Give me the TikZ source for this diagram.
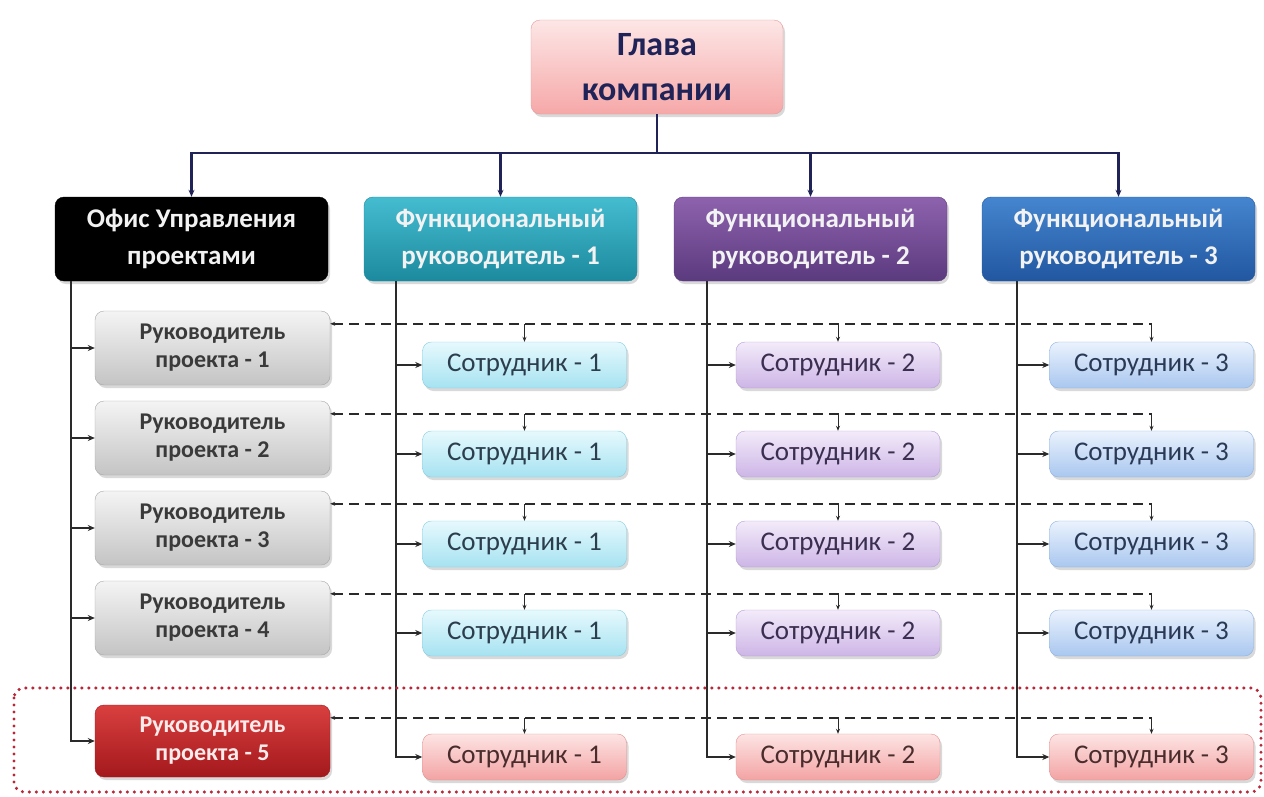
\documentclass[tikz,border=0pt]{standalone}
\usepackage{fontspec}
\setmainfont{Carlito}
\usetikzlibrary{shadows,arrows.meta}

\definecolor{navy}{HTML}{1F2358}
\definecolor{linegray}{HTML}{2A2A2A}
\definecolor{ceoTop}{HTML}{FDE6E6}
\definecolor{ceoBot}{HTML}{F6A8A8}
\definecolor{ceoLine}{HTML}{E49A9A}
\definecolor{tealTop}{HTML}{45BCD0}
\definecolor{tealBot}{HTML}{1C8A9E}
\definecolor{purTop}{HTML}{8E62AE}
\definecolor{purBot}{HTML}{5B3A7E}
\definecolor{bluTop}{HTML}{4585CF}
\definecolor{bluBot}{HTML}{2157A0}
\definecolor{gryTop}{HTML}{F4F4F4}
\definecolor{gryBot}{HTML}{C4C4C4}
\definecolor{redTop}{HTML}{D9403F}
\definecolor{redBot}{HTML}{A3181C}
\definecolor{ltTealTop}{HTML}{E6F9FD}
\definecolor{ltTealBot}{HTML}{A6E2F1}
\definecolor{ltTealLine}{HTML}{86CDE0}
\definecolor{ltPurTop}{HTML}{F3EBFA}
\definecolor{ltPurBot}{HTML}{CDB5E6}
\definecolor{ltPurLine}{HTML}{B49CD2}
\definecolor{ltBluTop}{HTML}{EAF2FD}
\definecolor{ltBluBot}{HTML}{A9C7EF}
\definecolor{ltBluLine}{HTML}{8FB2E0}
\definecolor{ltRedTop}{HTML}{FDE4E4}
\definecolor{ltRedBot}{HTML}{F3A3A3}
\definecolor{ltRedLine}{HTML}{E29090}
\definecolor{frameRed}{HTML}{B8283A}
\definecolor{txtTeal}{HTML}{2C3E4E}
\definecolor{txtPur}{HTML}{3A2F50}
\definecolor{txtBlu}{HTML}{2A3A56}
\definecolor{txtRed}{HTML}{4A2C2C}
\definecolor{txtGry}{HTML}{3A3A3A}
\definecolor{txtHead}{HTML}{F2F2F2}

\tikzset{
  box/.style={rounded corners=9pt, align=center, inner sep=0pt,
    drop shadow={opacity=0.3, shadow xshift=2pt, shadow yshift=-3pt}},
  headbox/.style={box, minimum width=273pt, minimum height=84pt,
    font=\fontsize{27}{37}\selectfont\bfseries, text=txtHead},
  pmbox/.style={box, minimum width=235pt, minimum height=74pt,
    draw=gray!70, top color=gryTop, bottom color=gryBot,
    font=\fontsize{24}{28}\selectfont\bfseries, text=txtGry},
  empbox/.style={box, minimum width=204pt, minimum height=46pt,
    font=\fontsize{27}{30}\selectfont},
  tealemp/.style={empbox, draw=ltTealLine, top color=ltTealTop, bottom color=ltTealBot, text=txtTeal},
  puremp/.style={empbox, draw=ltPurLine, top color=ltPurTop, bottom color=ltPurBot, text=txtPur},
  bluemp/.style={empbox, draw=ltBluLine, top color=ltBluTop, bottom color=ltBluBot, text=txtBlu},
  redemp/.style={empbox, draw=ltRedLine, top color=ltRedTop, bottom color=ltRedBot, text=txtRed},
  bus/.style={draw=navy, line width=2.4pt},
  busarrow/.style={bus, -{Stealth[length=7pt,width=6pt]}},
  tree/.style={draw=linegray, line width=1.6pt},
  treearrow/.style={tree, -{Stealth[length=7pt,width=6pt]}},
  dlink/.style={draw=linegray, line width=1.8pt, dash pattern=on 10pt off 6pt},
  droparrow/.style={draw=linegray, line width=0.9pt, -{Stealth[length=5pt,width=4pt]}},
}

\begin{document}
\begin{tikzpicture}[x=1pt,y=-1pt]
\useasboundingbox (0,0) rectangle (1264,796);

% head of the company
\node[box, minimum width=252pt, minimum height=94pt, draw=ceoLine,
  top color=ceoTop, bottom color=ceoBot, text=navy,
  font=\fontsize{34}{45}\selectfont\bfseries] (ceo) at (657,67) {Глава\\компании};

% second level
\node[headbox, fill=black, draw=black] (pmo) at (191.5,239) {Офис Управления\\проектами};
\node[headbox, draw=tealBot, top color=tealTop, bottom color=tealBot] (f1) at (500.5,239) {Функциональный\\руководитель - 1};
\node[headbox, draw=purBot, top color=purTop, bottom color=purBot] (f2) at (810.5,239) {Функциональный\\руководитель - 2};
\node[headbox, draw=bluBot, top color=bluTop, bottom color=bluBot] (f3) at (1118.5,239) {Функциональный\\руководитель - 3};

% bus from the head
\coordinate (busc) at (657,153);
\draw[bus] (ceo.south) -- (busc);
\foreach \n in {pmo,f1,f2,f3} \draw[busarrow] (busc) -| (\n.north);

% project managers
\node[pmbox] (pm1) at (212.5,348) {Руководитель\\проекта - 1};
\node[pmbox] (pm2) at (212.5,438) {Руководитель\\проекта - 2};
\node[pmbox] (pm3) at (212.5,528) {Руководитель\\проекта - 3};
\node[pmbox] (pm4) at (212.5,618) {Руководитель\\проекта - 4};
\node[box, minimum width=235pt, minimum height=72pt, draw=redBot,
  top color=redTop, bottom color=redBot, text=red!8,
  font=\fontsize{24}{28}\selectfont\bfseries] (pm5) at (212.5,741) {Руководитель\\проекта - 5};

% employees
\foreach \r/\y in {1/365,2/454,3/544,4/633}{
  \node[tealemp] (e\r1) at (524.5,\y) {Сотрудник - 1};
  \node[puremp]  (e\r2) at (838,\y)   {Сотрудник - 2};
  \node[bluemp]  (e\r3) at (1151.5,\y) {Сотрудник - 3};
}
\node[redemp] (e51) at (524.5,757) {Сотрудник - 1};
\node[redemp] (e52) at (838,757)   {Сотрудник - 2};
\node[redemp] (e53) at (1151.5,757) {Сотрудник - 3};

% vertical trunks
\coordinate (t0) at ([xshift=16pt]pmo.south west);
\coordinate (t1) at ([xshift=32pt]f1.south west);
\coordinate (t2) at ([xshift=33pt]f2.south west);
\coordinate (t3) at ([xshift=35pt]f3.south west);
\draw[treearrow] (t0) |- (pm5.west);
\foreach \r in {1,2,3,4} \draw[treearrow] (t0 |- pm\r.west) -- (pm\r.west);
\draw[treearrow] (t1) |- (e51.west);
\draw[treearrow] (t2) |- (e52.west);
\draw[treearrow] (t3) |- (e53.west);
\foreach \r in {1,2,3,4}{
  \draw[treearrow] (t1 |- e\r1.west) -- (e\r1.west);
  \draw[treearrow] (t2 |- e\r2.west) -- (e\r2.west);
  \draw[treearrow] (t3 |- e\r3.west) -- (e\r3.west);
}

% project links to employees
\foreach \r in {1,2,3,4,5}{
  \coordinate (d\r) at ([yshift=-13pt]pm\r.north east);
  \draw[dlink, {Stealth[length=5pt,width=4pt]}-] (d\r) -- (d\r -| e\r3.north);
  \foreach \c in {1,2,3} \draw[droparrow] (d\r -| e\r\c.north) -- (e\r\c.north);
}

% highlighted project
\draw[frameRed, line width=3.4pt, line cap=round, dash pattern=on 0pt off 7pt, rounded corners=10pt]
  (14,688) rectangle (1261,792);
\end{tikzpicture}
\end{document}
